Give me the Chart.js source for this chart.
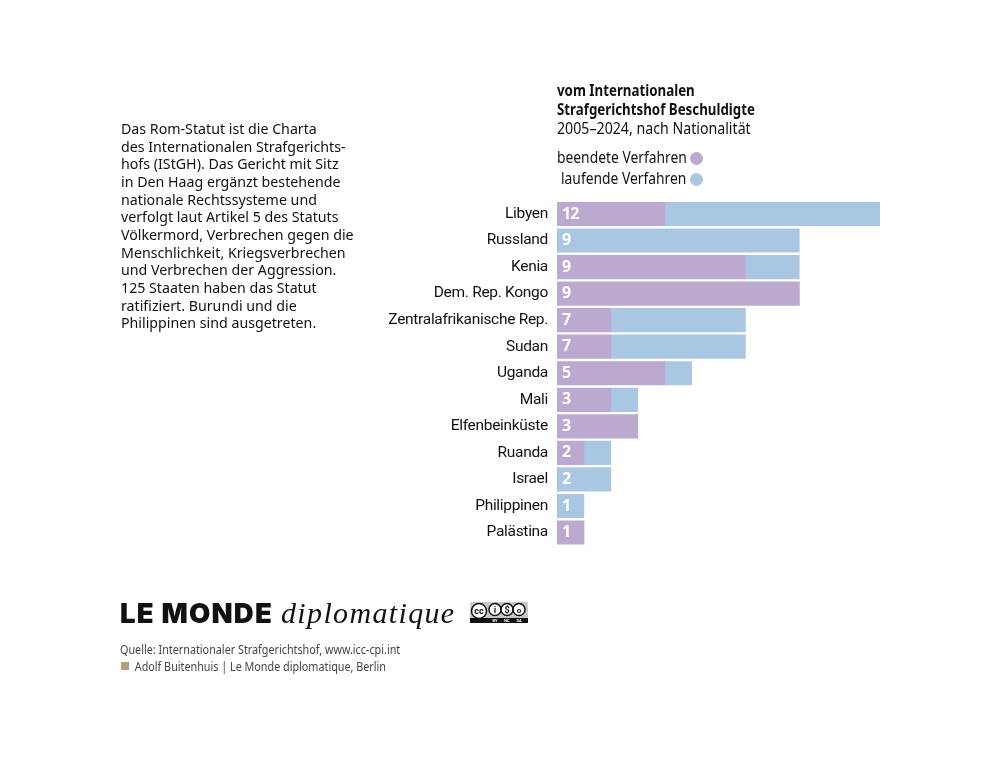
<!DOCTYPE html>
<html lang="de">
<head>
<meta charset="utf-8">
<title>Vom Internationalen Strafgerichtshof Beschuldigte</title>
<script src="https://cdn.jsdelivr.net/npm/chart.js@4/dist/chart.umd.min.js"></script>
<style>
html, body { margin: 0; padding: 0; background: #fff; }
body { width: 998px; height: 758px; position: relative; overflow: hidden; font-family: "Noto Sans", sans-serif; color: #111; }
#chart { position: absolute; left: 0; top: 0; }
.t { position: absolute; white-space: nowrap; transform-origin: 0 0; }
#intro { left: 121px; top: 120px; font-size: 14.8px; line-height: 17.65px; transform: scaleX(0.96); }
#title { left: 557px; top: 81px; font-size: 16px; line-height: 19px; font-weight: 700; transform: scaleX(0.832); }
#subtitle { left: 557px; top: 119px; font-size: 16px; line-height: 19px; transform: scaleX(0.886); }
.leg { font-size: 16px; line-height: 20px; transform: scaleX(0.865); }
.dot { position: absolute; width: 13px; height: 13px; border-radius: 50%; }
#brand1 { left: 120px; top: 596px; font: 900 27.5px/34px Inter, sans-serif; letter-spacing: 1.2px; }
#brand2 { left: 281px; top: 594px; font: italic 400 30px/38px "Liberation Serif", serif; letter-spacing: 1.35px; }
#src { left: 120px; top: 641px; font-size: 12.4px; line-height: 17px; color: #444; transform: scaleX(0.87); }
#sq { position: absolute; left: 121px; top: 662px; width: 8px; height: 8px; background: #b49f75; }
#cc { position: absolute; left: 470px; top: 602px; }
</style>
</head>
<body>
<canvas id="chart" width="998" height="758"></canvas>
<div class="t" id="intro">Das Rom-Statut ist die Charta<br>des Internationalen Strafgerichts-<br>hofs (IStGH). Das Gericht mit Sitz<br>in Den Haag ergänzt bestehende<br>nationale Rechtssysteme und<br>verfolgt laut Artikel 5 des Statuts<br>Völkermord, Verbrechen gegen die<br>Menschlichkeit, Kriegsverbrechen<br>und Verbrechen der Aggression.<br>125 Staaten haben das Statut<br>ratifiziert. Burundi und die<br>Philippinen sind ausgetreten.</div>
<div class="t" id="title">vom Internationalen<br>Strafgerichtshof Beschuldigte</div>
<div class="t" id="subtitle">2005–2024, nach Nationalität</div>
<div class="t leg" style="left:557px;top:147px">beendete Verfahren</div>
<div class="dot" style="left:690px;top:152px;background:#bba9cf"></div>
<div class="t leg" style="left:561px;top:168px">laufende Verfahren</div>
<div class="dot" style="left:690px;top:173px;background:#a9c6e3"></div>
<div class="t" id="brand1">LE MONDE</div>
<div class="t" id="brand2">diplomatique</div>
<svg id="cc" width="58" height="21" viewBox="0 0 58 21">
  <rect x="0" y="0" width="58" height="21" rx="1.5" fill="#c8c8c8"/>
  <rect x="0" y="16" width="58" height="5" fill="#111"/>
  <g fill="#fff" stroke="#111" stroke-width="1.5">
    <circle cx="9" cy="9" r="7.5"/><circle cx="25" cy="7.5" r="6"/><circle cx="37" cy="7.5" r="6"/><circle cx="49" cy="7.5" r="6"/>
  </g>
  <g font-family="Roboto, sans-serif" font-weight="700" fill="#111" text-anchor="middle">
    <text x="9" y="12" font-size="9">cc</text>
    <text x="25" y="11" font-size="9">i</text>
    <text x="37" y="11" font-size="9">$</text>
    <text x="49" y="10.5" font-size="8">o</text>
  </g>
  <g font-family="Roboto, sans-serif" font-weight="700" fill="#fff" font-size="4" text-anchor="middle">
    <text x="25" y="20.2">BY</text><text x="37" y="20.2">NC</text><text x="49" y="20.2">SA</text>
  </g>
</svg>
<div class="t" id="src">Quelle: Internationaler Strafgerichtshof, www.icc-cpi.int<br><span style="margin-left:17px">Adolf Buitenhuis | Le Monde diplomatique, Berlin</span></div>
<div id="sq"></div>
<script>
const countries = ['Libyen', 'Russland', 'Kenia', 'Dem. Rep. Kongo', 'Zentralafrikanische Rep.', 'Sudan', 'Uganda', 'Mali', 'Elfenbeinküste', 'Ruanda', 'Israel', 'Philippinen', 'Palästina'];
const finished = [4, 0, 7, 9, 2, 2, 4, 2, 3, 1, 0, 0, 1];
const ongoing = [8, 9, 2, 0, 5, 5, 1, 1, 0, 1, 2, 1, 0];

// tighten the tick labels a little to get near the original's width
const tightText = {
    id: 'tightText',
    beforeDraw(chart) { chart.ctx.letterSpacing = '-0.3px'; }
};

// total of each row, written white at the start of the bar
const totalLabels = {
    id: 'totalLabels',
    afterDatasetsDraw(chart) {
        const { ctx, scales } = chart;
        ctx.save();
        ctx.letterSpacing = '-1px';
        ctx.fillStyle = '#fff';
        ctx.font = '700 16px "Noto Sans", sans-serif';
        ctx.textBaseline = 'middle';
        ctx.textAlign = 'left';
        countries.forEach((name, i) => {
            ctx.fillText(finished[i] + ongoing[i], scales.x.getPixelForValue(0) + 5, scales.y.getPixelForValue(i));
        });
        ctx.restore();
    }
};

new Chart(document.getElementById('chart'), {
    type: 'bar',
    data: {
        labels: countries,
        datasets: [
            { label: 'beendete Verfahren', data: finished, backgroundColor: '#bba9cf' },
            { label: 'laufende Verfahren', data: ongoing, backgroundColor: '#a9c6e3' }
        ]
    },
    options: {
        indexAxis: 'y',
        responsive: false,
        animation: false,
        barThickness: 23.5,
        layout: { padding: { left: 0, right: 118, top: 200.7, bottom: 212.2 } },
        scales: {
            x: { stacked: true, min: 0, max: 12, display: false },
            y: {
                stacked: true,
                border: { display: false },
                grid: { display: false, drawTicks: false, tickLength: 0 },
                afterFit(scale) { scale.width = 557; },
                ticks: { color: '#111', padding: 9, autoSkip: false, font: { family: 'Roboto, sans-serif', size: 15.5 } }
            }
        },
        plugins: { legend: { display: false }, tooltip: { enabled: false } }
    },
    plugins: [tightText, totalLabels]
});
</script>
</body>
</html>
